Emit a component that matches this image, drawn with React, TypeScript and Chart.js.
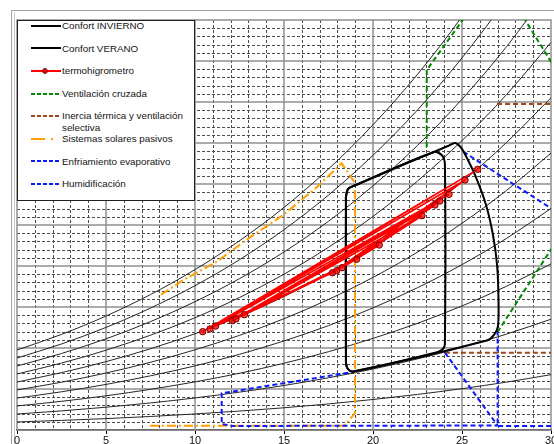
import React, { useEffect, useRef } from "react";
import { Chart, registerables } from "chart.js";

Chart.register(...registerables);

// Axis ranges: dry-bulb temperature (°C) and humidity scale
const X_MIN = 0;
const X_MAX = 30;
const Y_MIN = 0;
const Y_MAX = 50;
const X_TICK_STEP = 5;

// Relative-humidity curves (10 % … 100 %) tabulated at these temperatures
const RH_TEMPS = [0, 2.5, 5, 7.5, 10, 12.5, 15, 17.5, 20, 22.5, 25, 27.5, 30];
const RH_10 = [0.98, 1.17, 1.39, 1.65, 1.96, 2.31, 2.71, 3.18, 3.72, 4.34, 5.04, 5.84, 6.75];
const RH_20 = [1.95, 2.33, 2.78, 3.3, 3.91, 4.62, 5.43, 6.37, 7.44, 8.67, 10.08, 11.69, 13.51];
const RH_30 = [2.93, 3.5, 4.17, 4.96, 5.87, 6.92, 8.14, 9.55, 11.17, 13.01, 15.13, 17.53, 20.26];
const RH_40 = [3.9, 4.66, 5.56, 6.61, 7.82, 9.23, 10.86, 12.73, 14.89, 17.35, 20.17, 23.37, 27.01];
const RH_50 = [4.88, 5.83, 6.95, 8.26, 9.78, 11.54, 13.57, 15.92, 18.61, 21.69, 25.21, 29.22, 33.77];
const RH_60 = [5.85, 7.0, 8.34, 9.91, 11.74, 13.85, 16.28, 19.1, 22.33, 26.02, 30.25, 35.06, 40.52];
const RH_70 = [6.83, 8.16, 9.73, 11.56, 13.69, 16.16, 19.0, 22.28, 26.05, 30.36, 35.29, 40.9, 47.27];
const RH_80 = [7.8, 9.33, 11.12, 13.22, 15.65, 18.46, 21.71, 25.46, 29.78, 34.7, 40.34, 46.74, 54.02];
const RH_90 = [8.78, 10.49, 12.51, 14.87, 17.6, 20.77, 24.43, 28.65, 33.5, 39.03, 45.38, 52.59, 60.78];
const RH_100 = [9.75, 11.66, 13.9, 16.52, 19.56, 23.08, 27.14, 31.83, 37.22, 43.37, 50.42, 58.43, 67.53];
const RH_CURVES = [RH_10, RH_20, RH_30, RH_40, RH_50, RH_60, RH_70, RH_80, RH_90, RH_100];

// Comfort zones (outline vertices, temperature / humidity)
const CONFORT_INVIERNO: [number, number][] = [
  [18.48, 28.05], [18.48, 8.29], [18.57, 7.5], [18.88, 7.13], [23.6, 9.48], [23.93, 9.88],
  [24.04, 10.49], [24.04, 32.32], [23.88, 33.48], [23.43, 33.9], [19.04, 29.88], [18.6, 29.39],
  [18.48, 28.41], [18.48, 28.05],
];
const CONFORT_VERANO: [number, number][] = [
  [18.48, 28.05], [18.48, 8.29], [18.57, 7.5], [18.88, 7.13], [26.4, 10.91], [26.8, 11.59],
  [27.02, 12.68], [27.05, 15.85], [26.97, 20.12], [26.74, 23.78], [26.35, 27.44], [25.73, 31.1],
  [25.22, 33.41], [24.94, 34.45], [24.61, 35.0], [24.21, 34.63], [19.04, 29.88], [18.6, 29.39],
  [18.48, 28.41], [18.48, 28.05],
];

// Thermo-hygrometer readings, in recording order
const TERMO_T = [10.43, 25.88, 10.84, 25.17, 17.72, 11.16, 24.27, 12.08, 19.08, 23.76, 12.3, 23.48, 17.96, 12.77, 22.75, 18.26, 20.35];
const TERMO_W = [11.99, 31.79, 12.32, 30.49, 19.18, 12.68, 28.74, 13.33, 20.82, 27.93, 13.54, 27.44, 19.43, 14.06, 26.13, 19.79, 22.56];

// Strategy zone boundaries
const VENTILACION: [number, number][] = [[23.02, 34.5], [23.02, 43.9], [26.92, 55.7], [33.34, 33.2], [27.0, 11.95]];
const INERCIA_SUP: [number, number][] = [[26.97, 39.76], [34, 39.76]];
const INERCIA_INF: [number, number][] = [[24.04, 9.43], [34, 9.43]];
const SOLARES: [number, number][] = [
  [7.47, 0.52], [18.4, 0.52], [18.99, 2.07], [18.99, 30.12], [18.24, 32.52], [16.84, 29.6],
  [14.96, 26.22], [13.09, 23.5], [11.22, 20.52], [9.34, 18.29], [7.92, 16.26],
];
const EVAPORATIVO: [number, number][] = [[25.07, 33.94], [34, 21.44], [34, 0.49], [27.0, 0.49], [27.0, 11.99]];
const HUMIDIFICACION: [number, number][] = [[24.04, 9.43], [27.0, 0.55], [12.15, 0.49], [11.5, 0.73], [11.5, 4.48], [18.99, 7.11]];

const LEGEND_LABELS = [
  "Confort INVIERNO",
  "Confort VERANO",
  "termohigrometro",
  "Ventilación cruzada",
  "Inercia térmica y ventilación selectiva",
  "Sistemas solares pasivos",
  "Enfriamiento evaporativo",
  "Humidificación",
];

const COLORS = {
  confort: "#000000",
  termo: "#ff0000",
  termoEdge: "#7a0000",
  vent: "#008a00",
  inercia: "#a3461c",
  solar: "#ff9f00",
  blue: "#0a1aff",
};

const CANVAS_W = 572;
const CANVAS_H = 462;
const FONT = '"Liberation Sans", Arial, sans-serif';

const toXY = (pts: [number, number][]) => pts.map(([x, y]) => ({ x, y }));

const framePlugin = {
  id: "psyFrame",
  beforeDraw(chart: any) {
    const { ctx } = chart;
    ctx.save();
    ctx.fillStyle = "#ffffff";
    ctx.fillRect(0, 0, chart.width, chart.height);
    ctx.strokeStyle = "#a6a6a6";
    ctx.lineWidth = 1;
    ctx.strokeRect(11.5, 10.5, chart.width, chart.height);
    ctx.strokeStyle = "#c8c8c8";
    ctx.beginPath();
    ctx.moveTo(14.5, 12);
    ctx.lineTo(14.5, chart.height);
    ctx.stroke();
    ctx.restore();
  },
  beforeDatasetsDraw(chart: any) {
    const { ctx, chartArea: a, scales } = chart;
    const xs = scales.x;
    const ys = scales.y;
    ctx.save();
    ctx.beginPath();
    ctx.rect(a.left, a.top, a.right - a.left, a.bottom - a.top);
    ctx.clip();
    const vLine = (p: number) => {
      ctx.beginPath();
      ctx.moveTo(p, a.top);
      ctx.lineTo(p, a.bottom);
      ctx.stroke();
    };
    const hLine = (p: number) => {
      ctx.beginPath();
      ctx.moveTo(a.left, p);
      ctx.lineTo(a.right, p);
      ctx.stroke();
    };
    // minor grid: dashed, every unit
    ctx.strokeStyle = "#4d4d4d";
    ctx.lineWidth = 1;
    ctx.setLineDash([3, 2]);
    for (let v = X_MIN + 1; v < X_MAX; v++) if (v % 5 !== 0) vLine(Math.round(xs.getPixelForValue(v)) + 0.5);
    for (let v = Y_MIN + 1; v < Y_MAX; v++) if (v % 5 !== 0) hLine(Math.round(ys.getPixelForValue(v)) + 0.5);
    // major grid: solid grey, every five units
    ctx.setLineDash([]);
    ctx.strokeStyle = "#8f8f8f";
    ctx.lineWidth = 1.5;
    for (let v = X_MIN + 5; v < X_MAX; v += 5) vLine(Math.round(xs.getPixelForValue(v)));
    for (let v = Y_MIN + 5; v < Y_MAX; v += 5) hLine(Math.round(ys.getPixelForValue(v)));
    ctx.restore();
    // plot border
    ctx.save();
    ctx.strokeStyle = "#8f8f8f";
    ctx.lineWidth = 1.5;
    ctx.strokeRect(a.left, a.top, a.right - a.left, a.bottom - a.top);
    ctx.restore();
  },
};

function LegendSample({ index }: { index: number }) {
  const w = 30;
  const h = 10;
  const m = 5;
  let body: React.ReactNode = null;
  if (index === 0 || index === 1) {
    body = <line x1={0} y1={m} x2={w} y2={m} stroke={COLORS.confort} strokeWidth={2} />;
  } else if (index === 2) {
    body = (
      <g>
        <line x1={0} y1={m} x2={w} y2={m} stroke={COLORS.termo} strokeWidth={2} />
        <circle cx={14} cy={m} r={2.4} fill={COLORS.termo} stroke={COLORS.termoEdge} strokeWidth={1} />
      </g>
    );
  } else if (index === 5) {
    body = (
      <g stroke={COLORS.solar} strokeWidth={2}>
        <line x1={0} y1={m} x2={14} y2={m} />
        <line x1={20} y1={m} x2={22} y2={m} />
      </g>
    );
  } else {
    const c = index === 3 ? COLORS.vent : index === 4 ? COLORS.inercia : COLORS.blue;
    body = <line x1={0} y1={m} x2={w} y2={m} stroke={c} strokeWidth={2} strokeDasharray="4 2" />;
  }
  return (
    <svg width={w} height={h} style={{ position: "absolute", left: 31, display: "block" }}>
      {body}
    </svg>
  );
}

function Legend() {
  const rowTop = 25.7;
  const rowStep = 22.6;
  const lh = 11.3;
  return (
    <div>
      <div
        style={{
          position: "absolute",
          left: 17,
          top: 20,
          width: 178,
          height: 181,
          boxSizing: "border-box",
          border: "1px solid #1f1f1f",
          background: "#ffffff",
        }}
      />
      {LEGEND_LABELS.map((label, i) => {
        const cy = rowTop + i * rowStep;
        return (
          <div key={label} style={{ position: "absolute", left: 0, top: cy - 5 }}>
            <LegendSample index={i} />
            <div
              style={{
                position: "absolute",
                left: 62,
                top: 5 - lh / 2,
                width: 131,
                fontFamily: FONT,
                fontSize: 9.8,
                lineHeight: `${lh}px`,
                color: "#141414",
                whiteSpace: "normal",
              }}
            >
              {label}
            </div>
          </div>
        );
      })}
    </div>
  );
}

export default function App() {
  const canvasRef = useRef<HTMLCanvasElement | null>(null);

  useEffect(() => {
    const canvas = canvasRef.current;
    if (!canvas) return;

    const line = (pts: [number, number][], color: string, dash: number[], width: number, order: number, tension = 0) => ({
      data: toXY(pts),
      showLine: true,
      borderColor: color,
      borderDash: dash,
      borderWidth: width,
      pointRadius: 0,
      fill: false,
      tension,
      order,
    });

    const rhSets = RH_CURVES.map((vals) => ({
      data: RH_TEMPS.map((t, i) => ({ x: t, y: vals[i] })),
      showLine: true,
      borderColor: "#262626",
      borderWidth: 1,
      pointRadius: 0,
      fill: false,
      cubicInterpolationMode: "monotone" as const,
      order: 20,
    }));

    const termo = {
      label: LEGEND_LABELS[2],
      data: TERMO_T.map((t, i) => ({ x: t, y: TERMO_W[i] })),
      showLine: true,
      borderColor: COLORS.termo,
      borderWidth: 1.6,
      pointRadius: 3.2,
      pointBorderWidth: 1,
      pointBorderColor: COLORS.termoEdge,
      pointBackgroundColor: "rgba(255,0,0,0.75)",
      fill: false,
      tension: 0,
      order: 0,
    };

    const datasets: any[] = [
      ...rhSets,
      line(SOLARES, COLORS.solar, [9, 3, 2, 3], 2, 8),
      line(VENTILACION, COLORS.vent, [5, 3], 2, 6),
      line(INERCIA_SUP, COLORS.inercia, [5, 3], 2, 6),
      line(INERCIA_INF, COLORS.inercia, [5, 3], 2, 6),
      line(EVAPORATIVO, COLORS.blue, [5, 3], 2, 5),
      line(HUMIDIFICACION, COLORS.blue, [5, 3], 2, 5),
      line(CONFORT_VERANO, COLORS.confort, [], 2, 2, 0.3),
      line(CONFORT_INVIERNO, COLORS.confort, [], 2, 2, 0.3),
      termo,
    ];

    const chart = new Chart(canvas, {
      type: "scatter",
      data: { datasets },
      options: {
        animation: false,
        responsive: false,
        events: [],
        layout: { padding: { left: 17, top: 20, right: CANVAS_W - 551, bottom: 12 } },
        plugins: { legend: { display: false }, tooltip: { enabled: false } },
        scales: {
          x: {
            type: "linear",
            min: X_MIN,
            max: X_MAX,
            position: "bottom",
            afterFit: (s: any) => {
              s.height = 20;
            },
            grid: {
              display: true,
              drawOnChartArea: false,
              drawTicks: true,
              tickLength: 4,
              tickColor: "#000000",
              color: "rgba(0,0,0,0)",
            },
            border: { display: true, color: "#000000", width: 1.5 },
            ticks: {
              stepSize: X_TICK_STEP,
              padding: 0,
              color: "#111111",
              maxRotation: 0,
              autoSkip: false,
              font: { family: FONT, size: 11 },
            },
          },
          y: { type: "linear", min: Y_MIN, max: Y_MAX, display: false },
        },
      } as any,
      plugins: [framePlugin],
    });

    return () => chart.destroy();
  }, []);

  return (
    <div
      style={{
        position: "fixed",
        left: 0,
        top: 0,
        width: 554,
        height: 444,
        overflow: "hidden",
        background: "#ffffff",
      }}
    >
      <canvas ref={canvasRef} width={CANVAS_W} height={CANVAS_H} style={{ position: "absolute", left: 0, top: 0 }} />
      <Legend />
    </div>
  );
}
